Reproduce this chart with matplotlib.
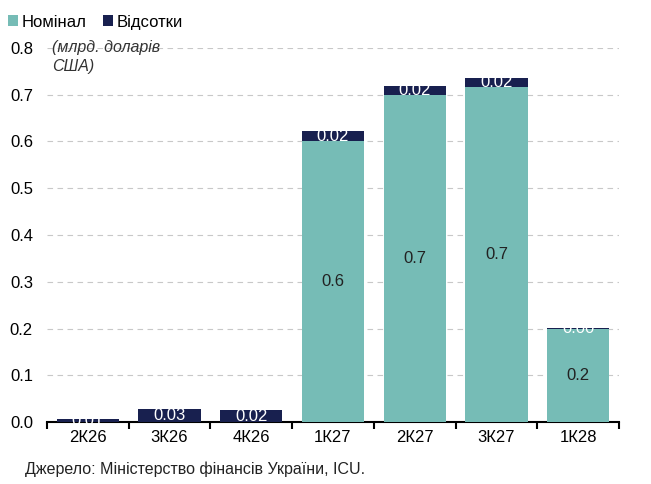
import numpy as np
import matplotlib.pyplot as plt

plt.rcParams['font.family'] = ['Liberation Sans Narrow', 'Liberation Sans', 'DejaVu Sans']

categories = ['2К26', '3К26', '4К26', '1К27', '2К27', '3К27', '1К28']
nominal = [0.0, 0.0, 0.0, 0.60, 0.70, 0.717, 0.199]
interest = [0.006, 0.028, 0.025, 0.022, 0.018, 0.019, 0.003]
interest_labels = ['0.01', '0.03', '0.02', '0.02', '0.02', '0.02', '0.00']
nominal_labels = ['', '', '', '0.6', '0.7', '0.7', '0.2']

teal = '#76BCB6'
navy = '#18204F'

fig = plt.figure(figsize=(6.51, 4.84), dpi=100)
ax = fig.add_axes([0.072, 0.128, 0.879, 0.773])

x = np.arange(len(categories))
w = 0.76
ax.bar(x, nominal, w, color=teal, label='Номінал', zorder=3)
ax.bar(x, interest, w, bottom=nominal, color=navy, label='Відсотки', zorder=3)

for i in range(len(x)):
    if nominal_labels[i]:
        ax.text(x[i], nominal[i] / 2, nominal_labels[i], ha='center', va='center',
                fontsize=12, color='#222222', zorder=4)
    ax.text(x[i], nominal[i] + interest[i] / 2, interest_labels[i], ha='center', va='center',
            fontsize=12, color='white', zorder=4)

ax.set_xlim(-0.5, len(x) - 0.5)
ax.set_ylim(0, 0.8)
ax.set_yticks(np.arange(0, 0.81, 0.1))
ax.set_yticklabels([f'{v:.1f}' for v in np.arange(0, 0.81, 0.1)], fontsize=12)
ax.yaxis.grid(True, linestyle=(0, (5, 4)), color='#C8C8C8', linewidth=0.8, zorder=0)
ax.tick_params(axis='y', length=0, pad=10)
ax.set_xticks(x)
ax.set_xticklabels(categories, fontsize=12)
ax.tick_params(axis='x', length=0, pad=6)
ax.set_xticks(np.arange(-0.5, len(x), 1), minor=True)
ax.tick_params(axis='x', which='minor', length=5, width=1.5, direction='out')
for s in ['left', 'right', 'top']:
    ax.spines[s].set_visible(False)
ax.spines['bottom'].set_linewidth(1.5)

ax.legend(loc='upper left', bbox_to_anchor=(0.012, 0.97), bbox_transform=fig.transFigure,
          ncol=2, frameon=False, fontsize=12, handlelength=0.6, handleheight=0.6,
          handletextpad=0.2, columnspacing=1.0, borderaxespad=0, borderpad=0)
fig.text(0.08, 0.918, '(млрд. доларів\nСША)', fontsize=11.5, style='italic',
         color='#333333', va='top', ha='left', linespacing=1.35)
fig.text(0.038, 0.02, 'Джерело: Міністерство фінансів України, ICU.', fontsize=11.5,
         color='#222222')

fig.savefig('out.png', dpi=100)
